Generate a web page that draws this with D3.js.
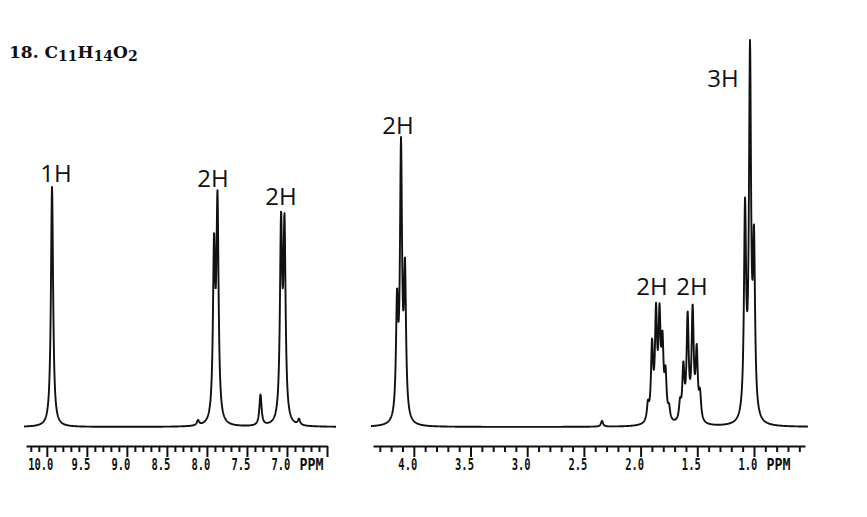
<!DOCTYPE html>
<html>
<head>
<meta charset="utf-8">
<script src="https://cdn.jsdelivr.net/npm/d3@7/dist/d3.min.js"></script>
<style>
  body { margin: 0; background: #fff; }
  .trace { fill: none; stroke: #111; stroke-width: 1.9; stroke-linejoin: round; }
  .ppm-axis path, .ppm-axis line { stroke: #111; stroke-width: 2; }
  .tick-label { font-family: "DejaVu Sans Mono", monospace; font-weight: bold; font-size: 16px; fill: #111; }
  .peak-label { font-family: "Open Sans", "Noto Sans", sans-serif; font-size: 24px; fill: #111; }
  .title { font-family: "DejaVu Serif", serif; font-weight: bold; font-size: 17px; fill: #111; }
</style>
</head>
<body>
<div class="app"></div>
<script>
'use strict'

// peaks: shift (ppm) and height (% of tallest line)
var leftPeakPpm    = [9.935, 8.111, 7.911, 7.868, 7.331, 7.074, 7.031, 6.850];
var leftPeakHeight = [62.0,  1.3,   43.3,  55.8,  8.0,   49.7,  49.0,  1.5];

var rightPeakPpm    = [4.148, 4.113, 4.078, 2.340,
                       1.935, 1.899, 1.864, 1.833, 1.807, 1.780, 1.749,
                       1.652, 1.623, 1.585, 1.541, 1.505, 1.476,
                       1.079, 1.035, 1.000];
var rightPeakHeight = [28.8,  69.0,  37.0,  1.5,
                       4.2,   19.0,  26.5,  25.0,  18.0,  11.0,  3.0,
                       4.4,   13.4,  26.5,  28.1,  17.4,  6.5,
                       53.0,  93.0,  43.0];

// half width at half height of one line (ppm)
var leftLineWidth = 0.0162;
var rightLineWidth = 0.011;

// integration labels: text, shift, level
var leftLabelText  = ["1H", "2H", "2H"];
var leftLabelPpm   = [9.885, 7.924, 7.074];
var leftLabelLevel = [63.3, 62.0, 57.4];

var rightLabelText  = ["2H", "2H", "2H", "3H"];
var rightLabelPpm   = [4.140, 1.899, 1.547, 1.273];
var rightLabelLevel = [75.7, 34.1, 34.1, 87.9];

// axis labels
var leftTickLabels  = ["10.0", "9.5", "9.0", "8.5", "8.0", "7.5", "7.0"];
var rightTickLabels = ["4.0", "3.5", "3.0", "2.5", "2.0", "1.5", "1.0"];

var width = 867, height = 517;
var axisY = 446;

var svg = d3.select(".app").append("svg")
  .attr("width", width)
  .attr("height", height);

var yScale = d3.scaleLinear().domain([0, 100]).range([427, 40]);

var panels = [
  { domain: [10.26, 6.5], range: [26, 327], trace: [24, 336],
    ppm: leftPeakPpm, h: leftPeakHeight, w: leftLineWidth,
    ticks: d3.range(65, 103).map(function(d) { return d / 10; }),
    tickLabels: leftTickLabels,
    labelText: leftLabelText, labelPpm: leftLabelPpm, labelLevel: leftLabelLevel },
  { domain: [4.36, 0.55], range: [373, 805], trace: [371, 808],
    ppm: rightPeakPpm, h: rightPeakHeight, w: rightLineWidth,
    ticks: d3.range(6, 44).map(function(d) { return d / 10; }),
    tickLabels: rightTickLabels,
    labelText: rightLabelText, labelPpm: rightLabelPpm, labelLevel: rightLabelLevel }
];

panels.forEach(function(p) {
  var x = d3.scaleLinear().domain(p.domain).range(p.range);

  // spectrum = sum of lorentzian lines
  var pts = [];
  for (var px = p.trace[0]; px <= p.trace[1]; px += 0.25) {
    var s = x.invert(px);
    var v = 0;
    for (var i = 0; i < p.ppm.length; i++) {
      var d = (s - p.ppm[i]) / p.w;
      v += p.h[i] / (1 + d * d);
    }
    pts.push({ ppm: s, v: v });
  }

  var line = d3.line()
    .x(function(d) { return x(d.ppm); })
    .y(function(d) { return yScale(d.v); });

  svg.append("path").attr("class", "trace").attr("d", line(pts));

  // ppm axis
  var axis = d3.axisBottom(x)
    .tickValues(p.ticks)
    .tickSize(6)
    .tickSizeOuter(0)
    .tickFormat("");

  var g = svg.append("g")
    .attr("class", "ppm-axis")
    .attr("transform", "translate(0," + axisY + ")")
    .call(axis);

  g.selectAll(".tick line")
    .attr("y2", function(d) { return Math.round(d * 10) % 5 === 0 ? 11 : 6; });

  p.tickLabels.forEach(function(t, i) {
    var tx = x(+t) - 6;
    svg.append("text")
      .attr("class", "tick-label")
      .attr("x", tx)
      .attr("y", axisY + 24)
      .attr("text-anchor", "middle")
      .attr("textLength", t.length * 6.3)
      .attr("lengthAdjust", "spacingAndGlyphs")
      .text(t);
    if (i === p.tickLabels.length - 1) {
      svg.append("text")
        .attr("class", "tick-label")
        .attr("x", tx + t.length * 3.15 + 9)
        .attr("y", axisY + 24)
        .attr("textLength", 24)
        .attr("lengthAdjust", "spacingAndGlyphs")
        .text("PPM");
    }
  });

  // integration labels
  p.labelText.forEach(function(t, i) {
    svg.append("text")
      .attr("class", "peak-label")
      .attr("x", x(p.labelPpm[i]))
      .attr("y", yScale(p.labelLevel[i]))
      .attr("text-anchor", "middle")
      .text(t);
  });
});

// compound title
var title = svg.append("text")
  .attr("class", "title")
  .attr("x", 9)
  .attr("y", 58);
title.append("tspan").text("18. C");
title.append("tspan").attr("font-size", "14px").attr("dy", 2.5).text("11");
title.append("tspan").attr("dy", -2.5).text("H");
title.append("tspan").attr("font-size", "14px").attr("dy", 2.5).text("14");
title.append("tspan").attr("dy", -2.5).text("O");
title.append("tspan").attr("font-size", "14px").attr("dy", 2.5).text("2");
</script>
</body>
</html>
